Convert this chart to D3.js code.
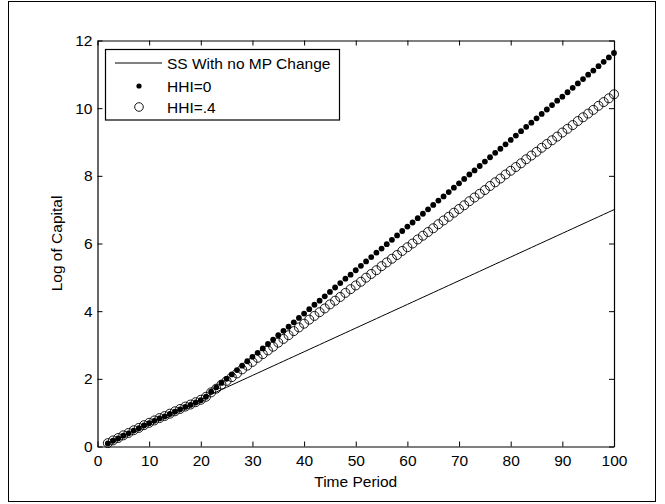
<!DOCTYPE html>
<html>
<head>
<meta charset="utf-8">
<script src="https://cdn.jsdelivr.net/npm/d3@7"></script>
<style>
  html, body { margin: 0; padding: 0; background: #fff; }
  svg { display: block; }
  text { font-family: "Liberation Sans", Arial, Helvetica, sans-serif; fill: #000; }
</style>
</head>
<body>
<svg id="chart" width="665" height="504"></svg>
<script>
// ---------------- data ----------------
const periods = [2,3,4,5,6,7,8,9,10,11,12,13,14,15,16,17,18,19,20,21,22,23,24,25,26,27,28,29,30,
  31,32,33,34,35,36,37,38,39,40,41,42,43,44,45,46,47,48,49,50,51,52,53,54,55,56,57,58,59,60,
  61,62,63,64,65,66,67,68,69,70,71,72,73,74,75,76,77,78,79,80,81,82,83,84,85,86,87,88,89,90,
  91,92,93,94,95,96,97,98,99,100];

const ssNoChange = [0.09,0.17,0.24,0.32,0.39,0.47,0.54,0.62,0.69,0.76,0.83,0.89,0.96,1.03,1.10,1.17,1.23,1.30,1.37,
  1.47,1.54,1.61,1.68,1.75,1.82,1.89,1.96,2.03,2.10,2.17,2.24,2.31,2.38,2.45,2.52,2.59,2.66,2.73,2.80,
  2.87,2.94,3.01,3.08,3.15,3.22,3.29,3.36,3.43,3.50,3.57,3.64,3.71,3.78,3.85,3.92,3.99,4.06,4.13,4.20,
  4.27,4.34,4.41,4.48,4.55,4.62,4.69,4.76,4.83,4.90,4.97,5.04,5.11,5.18,5.25,5.32,5.39,5.46,5.53,5.60,
  5.67,5.74,5.81,5.88,5.95,6.02,6.09,6.16,6.23,6.30,6.37,6.44,6.51,6.58,6.65,6.72,6.79,6.86,6.93,7.00];

const hhi0 = [0.09,0.17,0.24,0.32,0.39,0.47,0.54,0.62,0.69,0.76,0.83,0.89,0.96,1.03,1.10,1.17,1.23,1.30,1.37,
  1.47,1.62,1.75,1.88,2.00,2.13,2.26,2.39,2.52,2.65,2.77,2.90,3.03,3.16,3.29,3.42,3.54,3.67,3.80,3.93,
  4.06,4.19,4.31,4.44,4.57,4.70,4.83,4.96,5.08,5.21,5.34,5.47,5.60,5.73,5.85,5.98,6.11,6.24,6.37,6.50,
  6.62,6.75,6.88,7.01,7.14,7.27,7.39,7.52,7.65,7.78,7.91,8.04,8.16,8.29,8.42,8.55,8.68,8.80,8.93,9.06,
  9.19,9.32,9.45,9.57,9.70,9.83,9.96,10.09,10.22,10.34,10.47,10.60,10.73,10.86,10.99,11.11,11.24,11.37,11.50,11.63];

const hhi4 = [0.10,0.18,0.25,0.33,0.40,0.48,0.55,0.63,0.70,0.77,0.84,0.90,0.97,1.04,1.11,1.18,1.24,1.31,1.38,
  1.47,1.60,1.71,1.83,1.94,2.05,2.16,2.28,2.39,2.50,2.62,2.73,2.84,2.95,3.07,3.18,3.29,3.41,3.52,3.63,
  3.75,3.86,3.97,4.08,4.20,4.31,4.42,4.54,4.65,4.76,4.87,4.99,5.10,5.21,5.33,5.44,5.55,5.66,5.78,5.89,
  6.00,6.12,6.23,6.34,6.45,6.57,6.68,6.79,6.91,7.02,7.13,7.25,7.36,7.47,7.58,7.70,7.81,7.92,8.04,8.15,
  8.26,8.37,8.49,8.60,8.71,8.83,8.94,9.05,9.16,9.28,9.39,9.50,9.62,9.73,9.84,9.95,10.07,10.18,10.29,10.41];

const xTicks = [0,10,20,30,40,50,60,70,80,90,100];
const yTicks = [0,2,4,6,8,10,12];
const legendLabels = ["SS With no MP Change", "HHI=0", "HHI=.4"];
const xTitle = "Time Period";
const yTitle = "Log of  Capital";

// ---------------- drawing ----------------
const svg = d3.select("#chart");
const L = 97.5, R = 614, T = 40.5, B = 446.5;
const x = d3.scaleLinear().domain([0, 100]).range([L, R]);
const y = d3.scaleLinear().domain([0, 12]).range([B, T]);

// figure border
svg.append("rect").attr("x", 8.5).attr("y", 1.5).attr("width", 647).attr("height", 500)
  .attr("fill", "none").attr("stroke", "#000").attr("stroke-width", 1);

function styleAxis(g) {
  g.selectAll("path.domain").attr("stroke", "#000").attr("stroke-width", 1.2);
  g.selectAll(".tick line").attr("stroke", "#000").attr("stroke-width", 1);
  g.selectAll("text").attr("font-size", 15.5).attr("fill", "#000")
    .attr("font-family", '"Liberation Sans", Arial, sans-serif');
}

svg.append("g").attr("transform", `translate(0,${B})`)
  .call(d3.axisBottom(x).tickValues(xTicks).tickFormat(d3.format("d")).tickSizeInner(-5).tickSizeOuter(0).tickPadding(8))
  .call(styleAxis);
svg.append("g").attr("transform", `translate(0,${T})`)
  .call(d3.axisTop(x).tickValues(xTicks).tickFormat("").tickSizeInner(-5).tickSizeOuter(0))
  .call(styleAxis);
svg.append("g").attr("transform", `translate(${L},0)`)
  .call(d3.axisLeft(y).tickValues(yTicks).tickFormat(d3.format("d")).tickSizeInner(-5).tickSizeOuter(0).tickPadding(5))
  .call(styleAxis);
svg.append("g").attr("transform", `translate(${R},0)`)
  .call(d3.axisRight(y).tickValues(yTicks).tickFormat("").tickSizeInner(-5).tickSizeOuter(0))
  .call(styleAxis);

// axis titles
svg.append("text").attr("x", (L + R) / 2).attr("y", 487).attr("text-anchor", "middle")
  .attr("font-size", 15.5).text(xTitle);
svg.append("text").attr("transform", `translate(62,${(T + B) / 2}) rotate(-90)`)
  .attr("text-anchor", "middle").attr("font-size", 15.5).text(yTitle);

// series
const ssData = periods.map((t, i) => [t, ssNoChange[i]]);
const h0Data = periods.map((t, i) => [t, hhi0[i]]);
const h4Data = periods.map((t, i) => [t, hhi4[i]]);

svg.append("path").datum(ssData)
  .attr("fill", "none").attr("stroke", "#000").attr("stroke-width", 1)
  .attr("d", d3.line().x(d => x(d[0])).y(d => y(d[1])));

svg.append("g").selectAll("circle").data(h0Data).join("circle")
  .attr("cx", d => x(d[0])).attr("cy", d => y(d[1])).attr("r", 2.9).attr("fill", "#000");

svg.append("g").selectAll("circle").data(h4Data).join("circle")
  .attr("cx", d => x(d[0])).attr("cy", d => y(d[1])).attr("r", 4.5)
  .attr("fill", "none").attr("stroke", "#000").attr("stroke-width", 0.9);

// legend
const lg = svg.append("g");
lg.append("rect").attr("x", 105.5).attr("y", 49.5).attr("width", 234).attr("height", 70.5)
  .attr("fill", "#fff").attr("stroke", "#000").attr("stroke-width", 1.2);
const rowY = [63, 86, 107];
lg.append("line").attr("x1", 115).attr("x2", 162).attr("y1", rowY[0]).attr("y2", rowY[0])
  .attr("stroke", "#000").attr("stroke-width", 1);
lg.append("circle").attr("cx", 139).attr("cy", rowY[1]).attr("r", 2.6).attr("fill", "#000");
lg.append("circle").attr("cx", 139).attr("cy", rowY[2]).attr("r", 4.3)
  .attr("fill", "none").attr("stroke", "#000").attr("stroke-width", 0.9);
lg.selectAll("text.lab").data(legendLabels).join("text").attr("class", "lab")
  .attr("x", 167).attr("y", (d, i) => rowY[i]).attr("dy", "0.36em")
  .attr("font-size", 15.5).text(d => d);
</script>
</body>
</html>
